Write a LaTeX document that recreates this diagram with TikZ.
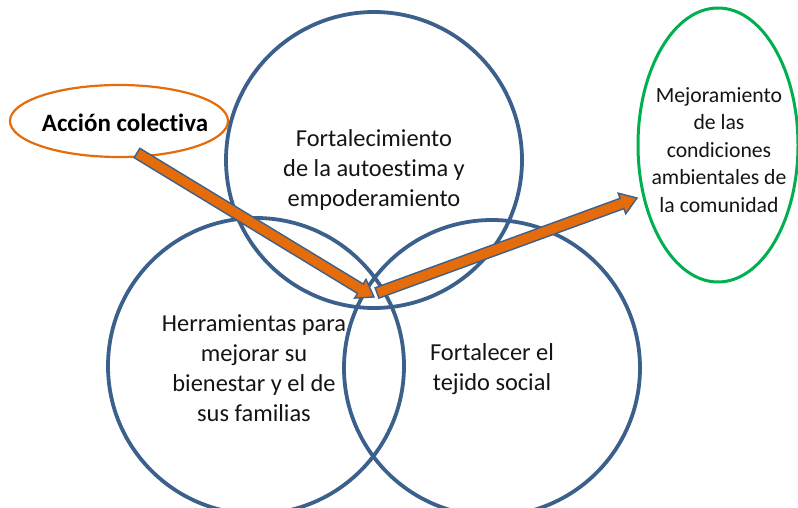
\documentclass[tikz,border=0pt]{standalone}
\usepackage{fontspec}
\setmainfont{Carlito}[Ligatures=NoCommon]
\usetikzlibrary{calc}
\definecolor{cblue}{RGB}{60,96,140}
\definecolor{corange}{RGB}{228,108,10}
\definecolor{cgreen}{RGB}{0,176,80}
\definecolor{ctext}{RGB}{20,20,20}
\tikzset{
  ring/.style={draw=cblue, line width=3.8pt},
  ctxt/.style={align=center, text=ctext, font=\fontsize{24.4}{30}\selectfont},
  gtxt/.style={align=center, text=ctext, font=\fontsize{21.7}{27.5}\selectfont},
  fatarrow/.style={fill=corange, draw=cblue, line width=1.4pt, line join=miter}
}
\newcommand\myfatarrow[3]{% start, end, head-base name
  \coordinate (#3) at ($(#2)!16pt!(#1)$);
  \path[fatarrow] ($(#1)!5.5pt!90:(#2)$) -- ($(#3)!5.5pt!90:(#2)$) -- ($(#3)!11pt!90:(#2)$) -- (#2)
    -- ($(#3)!11pt!-90:(#2)$) -- ($(#3)!5.5pt!-90:(#2)$) -- ($(#1)!5.5pt!-90:(#2)$) -- cycle;
}
\begin{document}
\begin{tikzpicture}[x=1pt,y=-1pt]
\useasboundingbox (0,0) rectangle (798,508);
\clip (0,0) rectangle (798,508);
% circles
\draw[ring] (374,160) circle (148);
\draw[ring] (256,366) circle (148);
\draw[ring] (492,368) circle (148);
% ellipses
\draw[draw=corange, line width=2.2pt] (119,121) ellipse [x radius=109, y radius=36];
\draw[draw=cgreen, line width=3pt] (718,145) ellipse [x radius=80, y radius=137];
% texts
\node[ctxt] (top) at (374,170) {Fortalecimiento\\de la autoestima y\\empoderamiento};
\node[ctxt] (left) at (254,368) {Herramientas para\\mejorar su\\bienestar y el de\\sus familias};
\node[ctxt] (right) at (492,369) {Fortalecer el\\tejido social};
\node[gtxt] (goal) at (719,150) {Mejoramiento\\de las\\condiciones\\ambientales de\\la comunidad};
\node[text=black, font=\fontsize{25}{30}\selectfont\bfseries] (acc) at (125,123) {Acción colectiva};
% arrows
\coordinate (a1s) at (137,153);
\coordinate (a1e) at (374,297);
\coordinate (a2s) at (377,293);
\coordinate (a2e) at (637,198);
\myfatarrow{a1s}{a1e}{h1}
\myfatarrow{a2s}{a2e}{h2}
\end{tikzpicture}
\end{document}
